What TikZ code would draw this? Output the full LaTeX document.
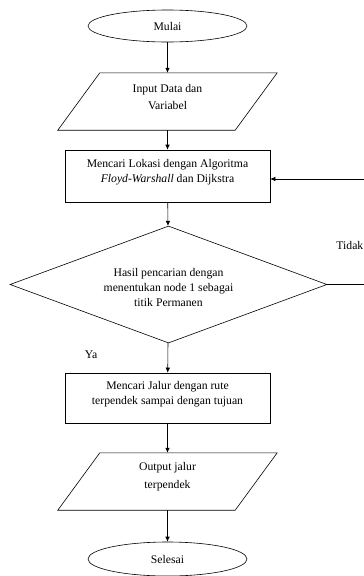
\documentclass[tikz,border=0pt]{standalone}
\usepackage{fontspec}
\setmainfont{Liberation Serif}
\usetikzlibrary{shapes.geometric,arrows.meta,calc}
\tikzset{
  base/.style={draw, line width=0.6pt, inner sep=0pt},
  txt/.style={font=\fontsize{11.7}{15}\selectfont, align=center, inner sep=0pt},
  iotxt/.style={font=\fontsize{11.7}{17.5}\selectfont, align=center, inner sep=0pt},
  term/.style={base, ellipse, minimum width=159pt, font=\fontsize{11.7}{15}\selectfont},
  io/.style={rectangle, inner sep=0pt, minimum width=177pt, minimum height=57pt},
  proc/.style={base, rectangle, minimum width=205pt},
  dec/.style={base, diamond, minimum width=317pt, minimum height=117pt, aspect=2.7},
  arr/.style={draw, line width=0.6pt, -{Latex[length=5pt,width=4.5pt]}},
  ln/.style={draw, line width=0.6pt},
  lbl/.style={font=\fontsize{11.7}{15}\selectfont, inner sep=0pt}
}
\newcommand{\iobox}[1]{%
  \draw[ln] ($(#1.north west)+(21,0)$) -- ($(#1.north east)+(21,0)$) --
    ($(#1.south east)+(-21,0)$) -- ($(#1.south west)+(-21,0)$) -- cycle;}
\begin{document}
\begin{tikzpicture}[x=1pt,y=-1pt]
\useasboundingbox (0,0) rectangle (364,576);
\node[term, minimum height=32pt] (start) at (167.5,26) {Mulai};
\node[io] (in) at (167.5,101.5) {};
\iobox{in}
\node[iotxt] (intxt) at (167.5,97) {Input Data dan\\Variabel};
\node[proc, minimum height=52pt] (p1) at (167.5,176) {};
\node[txt] (p1txt) at (167.5,172.5) {Mencari Lokasi dengan Algoritma\\\textit{Floyd-Warshall} dan Dijkstra};
\node[dec] (d) at (168.5,284.5) {};
\node[txt] (dtxt) at (168.5,287) {Hasil pencarian dengan\\menentukan node 1 sebagai\\titik Permanen};
\node[proc, minimum height=50pt] (p2) at (167.5,398) {};
\node[txt] (p2txt) at (167.5,394) {Mencari Jalur dengan rute\\terpendek sampai dengan tujuan};
\node[io] (out) at (167.5,481.5) {};
\iobox{out}
\node[iotxt] (outtxt) at (167.5,476.5) {Output jalur\\terpendek};
\node[term, minimum height=34pt] (end) at (167.5,559) {Selesai};
\node[lbl, anchor=east] (tidak) at (363.5,245) {Tidak};
\node[lbl] (ya) at (91,355) {Ya};
\coordinate (r1) at (364,284.5);
\coordinate (r2) at (364,179);
\draw[arr] (start) -- (in);
\draw[arr] (in) -- (p1);
\draw[arr] (p1) -- (d);
\draw[arr] (d) -- (p2);
\draw[arr] (p2) -- (out);
\draw[arr] (out) -- (end);
\draw[ln] (d.east) -- (r1);
\draw[arr] (r2) -- (r2 -| p1.east);
\end{tikzpicture}
\end{document}
